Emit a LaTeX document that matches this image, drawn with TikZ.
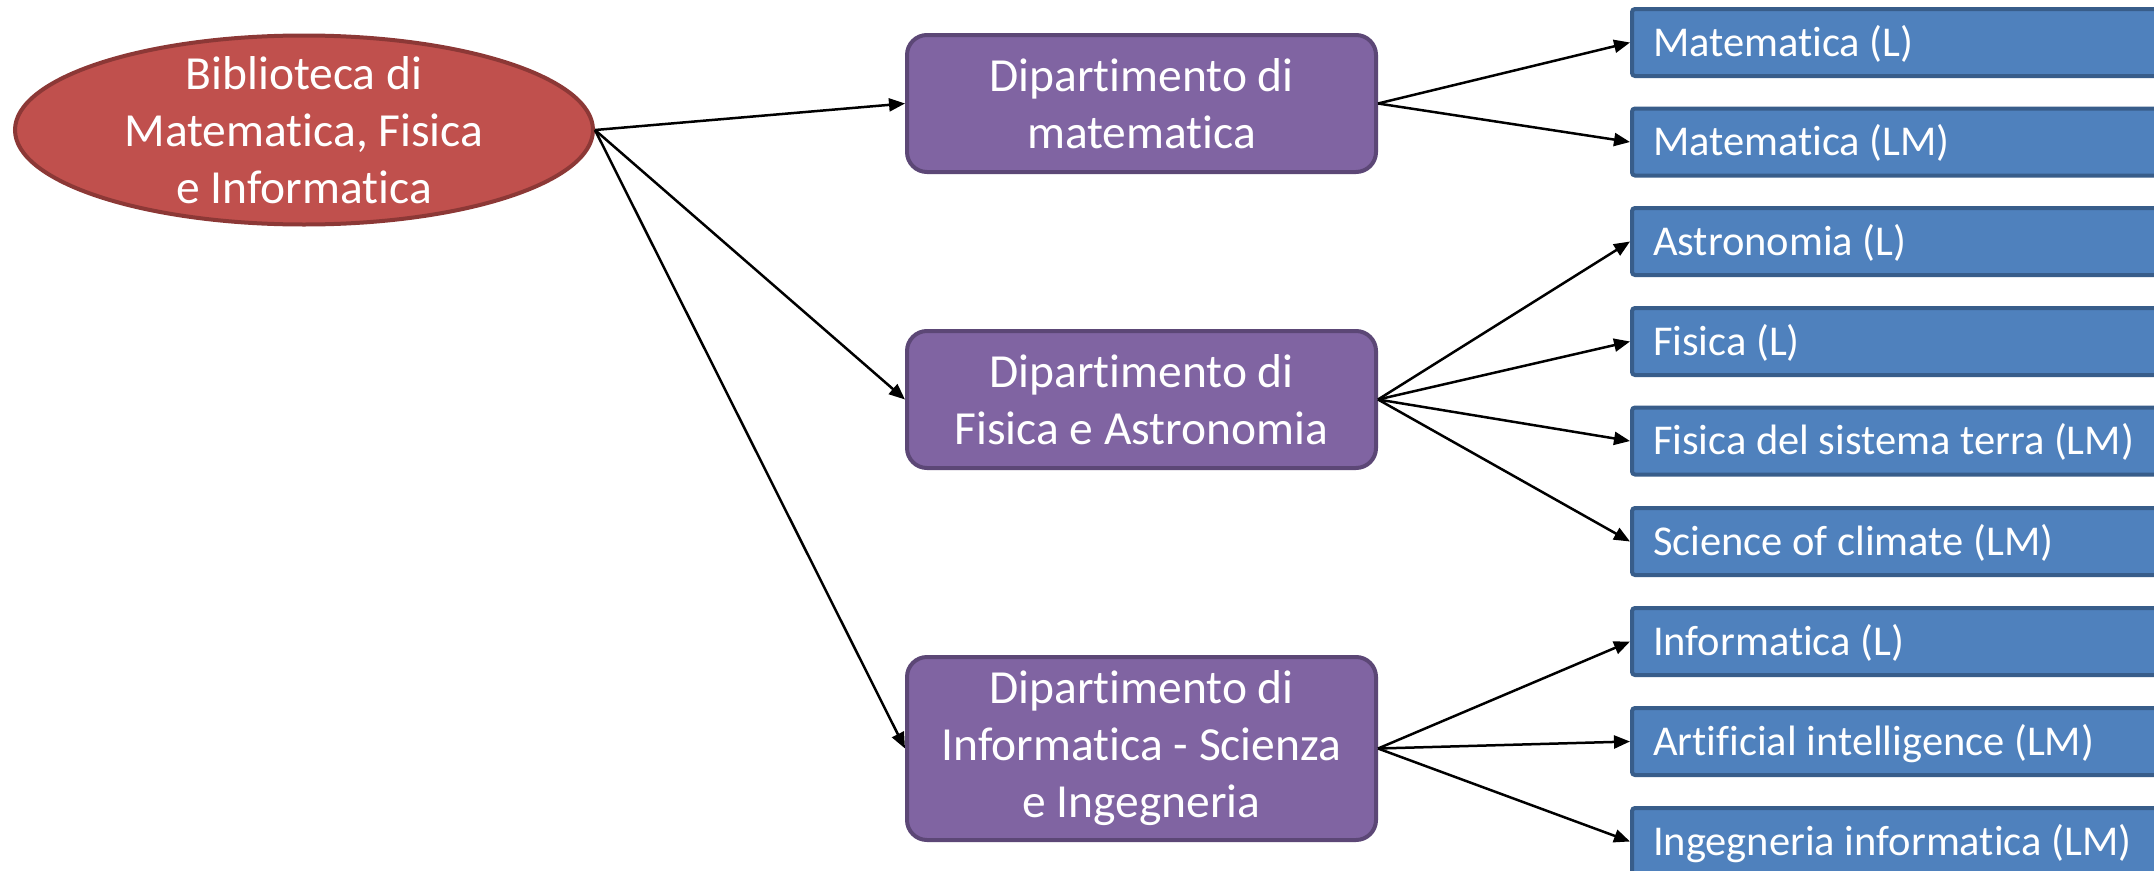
\documentclass[tikz,border=0pt]{standalone}
\usepackage{fontspec}
\setmainfont{Carlito}[Ligatures=NoCommon]
\usetikzlibrary{shapes.geometric,arrows.meta}
\definecolor{redfill}{HTML}{C0504D}
\definecolor{redline}{HTML}{8C3836}
\definecolor{purfill}{HTML}{8064A2}
\definecolor{purline}{HTML}{5C4776}
\definecolor{bluefill}{HTML}{4F81BD}
\definecolor{blueline}{HTML}{385D8A}
\begin{document}
\begin{tikzpicture}[x=1pt,y=-1pt,
  lib/.style={ellipse, draw=redline, fill=redfill, line width=4pt,
    minimum width=578pt, minimum height=189pt, inner sep=0pt},
  libtext/.style={inner sep=0pt, align=center,
    text=white, font=\fontsize{47.5}{57}\selectfont},
  dept/.style={rectangle, rounded corners=20pt, draw=purline, fill=purfill, line width=4pt,
    minimum width=469pt, minimum height=137pt, inner sep=0pt, align=center,
    text=white, font=\fontsize{47.5}{57}\selectfont},
  prog/.style={rectangle, rounded corners=3pt, draw=blueline, fill=bluefill, line width=4pt,
    anchor=west, minimum height=67pt, inner xsep=21pt, inner ysep=0pt,
    text width=560pt, align=flush left, text height=27.5pt, text depth=0pt,
    text=white, font=\fontsize{42.5}{51}\selectfont},
  conn/.style={line width=2.5pt, -{Triangle[length=16pt,width=13pt]}}]
\useasboundingbox (0,0) rectangle (2154,870);
\clip (0,0) rectangle (2154,870);
\fill[white] (0,0) rectangle (2154,870);

\node[lib] (lib) at (304,130) {};
\node[libtext] (libt) at (lib.center) {Biblioteca di\\Matematica, Fisica\\e Informatica};

\node[dept] (d1) at (1141.5,103.5) {Dipartimento di\\matematica};
\node[dept] (d2) at (1141.5,399.5) {Dipartimento di\\Fisica e Astronomia};
\node[dept, minimum height=183pt] (d3) at (1141.5,748.5) {Dipartimento di\\Informatica - Scienza\\e Ingegneria};

\node[prog] (p1) at (1630,42.5) {Matematica (L)};
\node[prog] (p2) at (1630,142) {Matematica (LM)};
\node[prog] (p3) at (1630,241.5) {Astronomia (L)};
\node[prog] (p4) at (1630,341.5) {Fisica (L)};
\node[prog] (p5) at (1630,441) {Fisica del sistema terra (LM)};
\node[prog] (p6) at (1630,541.5) {Science of climate (LM)};
\node[prog] (p7) at (1630,641.5) {Informatica (L)};
\node[prog] (p8) at (1630,741.5) {Artificial intelligence (LM)};
\node[prog] (p9) at (1630,841.5) {Ingegneria informatica (LM)};

\draw[conn] (lib.east) -- (d1.west);
\draw[conn] (lib.east) -- (d2.west);
\draw[conn] (lib.east) -- (d3.west);

\draw[conn] (d1.east) -- (p1.west);
\draw[conn] (d1.east) -- (p2.west);
\draw[conn] (d2.east) -- (p3.west);
\draw[conn] (d2.east) -- (p4.west);
\draw[conn] (d2.east) -- (p5.west);
\draw[conn] (d2.east) -- (p6.west);
\draw[conn] (d3.east) -- (p7.west);
\draw[conn] (d3.east) -- (p8.west);
\draw[conn] (d3.east) -- (p9.west);
\end{tikzpicture}
\end{document}
